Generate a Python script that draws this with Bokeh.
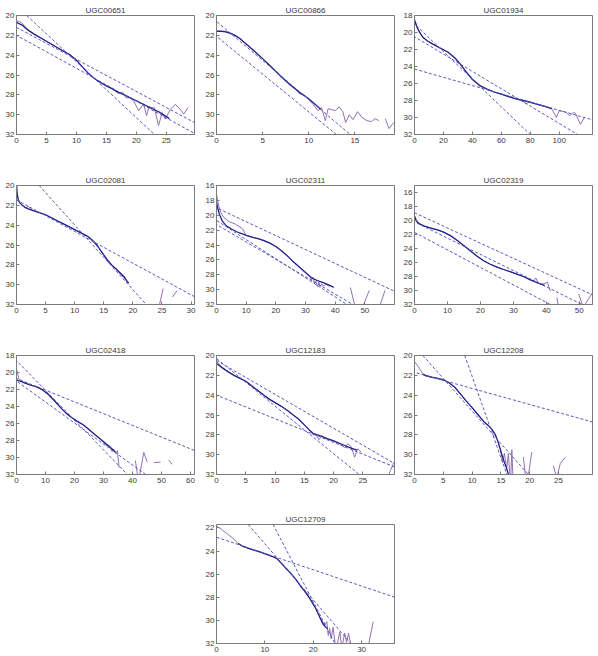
import numpy as np
from bokeh.plotting import figure
from bokeh.models import Range1d, FixedTicker, Slope, Spacer
from bokeh.layouts import column, row
from bokeh.embed import file_html
from bokeh.resources import INLINE

nan = float("nan")

names = ["UGC00651", "UGC00866", "UGC01934", "UGC02081", "UGC02311",
         "UGC02319", "UGC02418", "UGC12183", "UGC12208", "UGC12709"]

# ---------------- UGC00651 ----------------
p1_xmax = 29.7
p1_ylim = [20, 32]
p1_xticks = [0, 5, 10, 15, 20, 25]
p1_yticks = [20, 22, 24, 26, 28, 30, 32]
p1_dark_r = [0, 1, 2, 3, 4, 5, 6, 7, 8, 9, 10, 11, 12, 13, 14, 15, 16, 17, 18, 19, 20, 21, 22, 23, 24, 25, 25.5]
p1_dark_mu = [20.7, 21.0, 21.5, 21.9, 22.25, 22.6, 22.95, 23.3, 23.65, 24.0, 24.5, 25.2, 25.85, 26.35, 26.75,
              27.1, 27.4, 27.75, 28.0, 28.3, 28.6, 28.9, 29.2, 29.5, 29.8, 30.2, 30.4]
p1_raw_r = [0, 0.5, 1, 1.5, 2, 3, 4, 5, 6, 7, 8, 9, 10, 11, 12, 13, 14, 15, 16, 17, 17.7, 18.3, 19, 19.6,
            20.4, 21.2, 21.7, 22.1, 22.6, 23.0, 23.7, 24.3, 24.8, 25.7, 26.5, 27.3, 27.9, 28.6]
p1_raw_mu = [20.55, 20.6, 20.8, 21.2, 21.5, 21.9, 22.25, 22.6, 22.95, 23.3, 23.65, 24.0, 24.5, 25.2, 25.85,
             26.35, 26.75, 27.1, 27.4, 27.85, 27.75, 28.3, 28.3, 28.7, 29.6, 28.9, 30.1, 29.2, 29.3, 29.3,
             31.1, 29.8, 30.45, 29.45, 28.95, 29.45, 29.95, 29.3]
p1_fit_b = [19.04, 21.2, 22.0]
p1_fit_m = [0.563, 0.323, 0.333]

# ---------------- UGC00866 ----------------
p2_xmax = 19.3
p2_ylim = [20, 32]
p2_xticks = [0, 5, 10, 15]
p2_yticks = [20, 22, 24, 26, 28, 30, 32]
p2_dark_r = [0, 0.5, 1, 1.5, 2, 2.5, 3, 4, 5, 6, 7, 8, 9, 10, 10.5, 11, 11.3]
p2_dark_mu = [21.6, 21.6, 21.65, 21.8, 22.0, 22.3, 22.7, 23.5, 24.35, 25.25, 26.15, 27.0, 27.75, 28.4, 28.8, 29.2, 29.45]
p2_raw_r = [0, 0.5, 1, 1.5, 2, 2.5, 3, 4, 5, 6, 7, 8, 8.5, 9, 9.5, 10, 10.5, 11.0, 11.4, 11.8, 12.1, 12.5,
            12.9, 13.3, 13.7, 14.0, 14.4, 14.8, 15.3, 15.8, 16.3, 16.8, 17.2, 17.6, nan, 18.3, 18.7, 19.2]
p2_raw_mu = [21.55, 21.55, 21.6, 21.75, 22.0, 22.3, 22.7, 23.5, 24.35, 25.25, 26.15, 27.0, 27.3, 27.9, 28.0,
             28.5, 29.0, 29.6, 29.3, 30.6, 29.4, 29.5, 29.6, 29.2, 29.7, 30.8, 30.0, 30.5, 29.7, 30.3, 30.6,
             30.7, 30.4, 30.6, nan, 30.4, 31.4, 30.8]
p2_fit_b = [20.6, 22.1]
p2_fit_m = [0.786, 0.762]

# ---------------- UGC01934 ----------------
p3_xmax = 123
p3_ylim = [18, 32]
p3_xticks = [0, 20, 40, 60, 80, 100]
p3_yticks = [18, 20, 22, 24, 26, 28, 30, 32]
p3_dark_r = [0, 2, 4, 6, 9, 13, 18, 23, 28, 32, 36, 40, 45, 50, 55, 60, 65, 70, 75, 80, 85, 90, 95]
p3_dark_mu = [18.6, 19.5, 20.1, 20.6, 21.0, 21.4, 21.85, 22.3, 23.0, 23.8, 24.7, 25.5, 26.2, 26.65, 27.0,
              27.25, 27.55, 27.8, 28.0, 28.2, 28.45, 28.7, 28.95]
p3_raw_r = [0, 2, 4, 6, 9, 13, 18, 23, 28, 32, 36, 40, 43, 46, 50, 55, 60, 65, 70, 75, 77, 79, 81, 85, 90,
            95, 98, 100, 103, 105, 107, 110, 111.2, 114.7, 117.4]
p3_raw_mu = [18.4, 19.4, 20.1, 20.6, 21.0, 21.4, 21.85, 22.3, 23.0, 23.8, 24.7, 25.6, 26.0, 26.4, 26.65,
             27.0, 27.25, 27.55, 27.8, 28.0, 28.4, 28.2, 28.3, 28.45, 28.7, 29.0, 30.0, 29.2, 29.3, 29.4,
             29.8, 29.4, 29.5, 30.8, 30.0]
p3_fit_b = [19.0, 20.5, 24.3]
p3_fit_m = [0.1625, 0.102, 0.0486]

# ---------------- UGC02081 ----------------
p4_xmax = 30.6
p4_ylim = [20, 32]
p4_xticks = [0, 5, 10, 15, 20, 25, 30]
p4_yticks = [20, 22, 24, 26, 28, 30, 32]
p4_dark_r = [0, 0.1, 0.25, 0.5, 1, 1.5, 2, 3, 4, 5, 6, 7, 8, 9, 10, 11, 12, 12.5, 13, 13.5, 14, 14.5, 15,
             15.5, 16, 16.5, 17, 17.5, 18, 18.5, 19, 19.3]
p4_dark_mu = [20.0, 20.8, 21.3, 21.7, 22.0, 22.2, 22.35, 22.55, 22.75, 22.95, 23.25, 23.55, 23.85, 24.15,
              24.45, 24.75, 25.05, 25.25, 25.5, 25.8, 26.15, 26.6, 27.0, 27.4, 27.75, 28.1, 28.35, 28.65,
              28.95, 29.25, 29.65, 29.85]
p4_raw_r = [0, 0.1, 0.25, 0.5, 1, 1.5, 2, 2.5, 3, 4, 5, 6, 7, 8, 9, 10, 11, 12, 13, 14, 15, 15.5, 16, 16.5,
            17, 17.5, 18, 18.5, 19, 19.3, nan, 24.4, 25.2, nan, 26.8, 27.6]
p4_raw_mu = [20.0, 20.8, 21.3, 21.7, 22.0, 22.3, 22.1, 22.4, 22.55, 22.75, 22.95, 23.25, 23.55, 23.85, 24.15,
             24.45, 24.75, 25.05, 25.5, 26.15, 27.0, 27.55, 27.9, 28.1, 28.35, 28.6, 28.85, 29.1, 29.65,
             29.85, nan, 32.5, 30.4, nan, 31.25, 30.6]
p4_fit_b = [17.46, 21.45]
p4_fit_m = [0.652, 0.319]

# ---------------- UGC02311 ----------------
p5_xmax = 60
p5_ylim = [16, 32]
p5_xticks = [0, 10, 20, 30, 40, 50]
p5_yticks = [16, 18, 20, 22, 24, 26, 28, 30, 32]
p5_dark_r = [0, 0.5, 1, 2, 3, 4, 5, 6, 7, 8, 9, 10, 12, 14, 16, 18, 20, 22, 24, 26, 28, 30, 32, 34, 36, 38, 39.5]
p5_dark_mu = [18.2, 19.2, 19.9, 20.8, 21.3, 21.6, 21.85, 22.05, 22.25, 22.4, 22.55, 22.7, 22.95, 23.15, 23.4,
              23.75, 24.2, 24.8, 25.5, 26.3, 27.0, 27.7, 28.4, 28.8, 29.05, 29.4, 29.7]
p5_raw_r = [0, 0.3, 0.6, 1.4, 2.5, 4.2, 6.4, 8.7, 10, 12, 14, 16, 18, 20, 22, 24, 26, 28, 30, 31.5, 32, 32.5,
            33, 33.5, 34, 34.5, 35, 35.5, 36, 37, 38, nan, 45.1, 46.8, nan, 49.2, 51.5, nan, 54.9, 56.8]
p5_raw_mu = [17.2, 17.8, 18.5, 19.6, 20.3, 20.85, 21.2, 21.8, 22.7, 22.95, 23.15, 23.4, 23.75, 24.2, 24.8,
             25.5, 26.3, 27.0, 27.7, 28.2, 28.7, 28.3, 29.2, 28.9, 29.6, 29.0, 29.6, 29.2, 29.5, 29.3, 29.6,
             nan, 29.7, 32.4, nan, 32.4, 30.1, nan, 32.4, 30.1]
p5_fit_b = [19.0, 20.7, 21.25]
p5_fit_m = [0.187, 0.257, 0.234]

# ---------------- UGC02319 ----------------
p6_xmax = 54
p6_ylim = [15, 32]
p6_xticks = [0, 10, 20, 30, 40, 50]
p6_yticks = [16, 18, 20, 22, 24, 26, 28, 30, 32]
p6_dark_r = [0, 0.5, 1, 2, 3, 5, 7, 9, 11, 13, 15, 17, 19, 21, 23, 25, 27, 29, 31, 33, 35, 37, 39, 39.5]
p6_dark_mu = [19.4, 20.0, 20.3, 20.6, 20.8, 21.1, 21.35, 21.7, 22.2, 22.85, 23.6, 24.35, 25.1, 25.75, 26.25,
              26.65, 27.0, 27.3, 27.65, 28.0, 28.45, 28.85, 29.2, 29.3]
p6_raw_r = [0, 0.5, 1, 2, 3, 5, 7, 9, 11, 13, 15, 17, 19, 21, 23, 25, 27, 29, 31, 33, 35, 36.1, 36.8, 37.6,
            38.5, 39.6, 40.3, 41.2, nan, 43.2, 43.7, nan, 49.8, 51.2, 54.0]
p6_raw_mu = [19.3, 19.9, 20.3, 20.6, 20.8, 21.1, 21.35, 21.7, 22.2, 22.85, 23.6, 24.35, 25.1, 25.75, 26.25,
             26.65, 27.0, 27.3, 27.65, 28.0, 28.45, 28.7, 28.2, 29.0, 29.1, 29.0, 28.8, 30.1, nan, 31.0, 32.4,
             nan, 30.5, 32.4, 30.3]
p6_fit_b = [18.9, 20.2, 21.7]
p6_fit_m = [0.217, 0.232, 0.25]

# ---------------- UGC02418 ----------------
p7_xmax = 61.4
p7_ylim = [18, 32]
p7_xticks = [0, 10, 20, 30, 40, 50, 60]
p7_yticks = [18, 20, 22, 24, 26, 28, 30, 32]
p7_dark_r = [0, 0.5, 1, 2, 3, 5, 7, 9, 11, 13, 15, 17, 19, 21, 23, 25, 27, 29, 31, 33, 34.2]
p7_dark_mu = [20.9, 20.95, 21.0, 21.1, 21.25, 21.5, 21.7, 22.05, 22.6, 23.3, 24.05, 24.75, 25.3, 25.75,
              26.15, 26.7, 27.3, 27.85, 28.4, 29.0, 29.4]
p7_raw_r = [0, 0.5, 1, 2, 3, 5, 7, 9, 10, 11, 13, 15, 17, 19, 21, 23, 25, 27, 29, 30, 31, 32, 33, 33.5,
            34.2, 34.8, 35.4, nan, 41.0, 41.9, nan, 42.3, 43.9, 45.1, nan, 47.4, 49.7, nan, 52.5, 53.7]
p7_raw_mu = [19.6, 20.3, 20.9, 21.15, 21.25, 21.5, 21.7, 22.0, 22.35, 22.5, 23.3, 24.05, 24.75, 25.3, 25.75,
             26.15, 26.7, 27.3, 27.85, 28.2, 28.6, 28.6, 29.3, 29.0, 29.5, 29.2, 31.2, nan, 30.35, 32.4, nan,
             32.4, 29.4, 30.55, nan, 30.6, 30.55, nan, 30.3, 30.8]
p7_fit_b = [18.6, 20.7, 21.0]
p7_fit_m = [0.35, 0.138, 0.247]

# ---------------- UGC12183 ----------------
p8_xmax = 30.4
p8_ylim = [20, 32]
p8_xticks = [0, 5, 10, 15, 20, 25]
p8_yticks = [20, 22, 24, 26, 28, 30, 32]
p8_dark_r = [0, 1, 2, 3, 4, 5, 6, 7, 8, 9, 10, 11, 12, 13, 14, 15, 16, 16.5, 17, 18, 19, 20, 21, 22, 23, 24]
p8_dark_mu = [20.8, 21.25, 21.65, 22.0, 22.3, 22.6, 23.05, 23.5, 23.95, 24.4, 24.75, 25.1, 25.5, 25.95, 26.4,
              27.0, 27.6, 27.85, 27.95, 28.15, 28.4, 28.6, 28.85, 29.1, 29.35, 29.55]
p8_raw_r = [0, 1, 2, 3, 4, 5, 6, 6.5, 7, 8, 9, 10, 11, 12, 13, 14, 15, 16, 16.5, 17, 17.5, 18, 18.5, 19, 20,
            21, 21.9, 22.4, 23.0, 23.6, 24.1, 24.7, nan, 29.2, 29.7, 30.4]
p8_raw_mu = [20.6, 21.2, 21.65, 22.0, 22.3, 22.6, 23.0, 23.35, 23.5, 23.95, 24.4, 24.75, 25.1, 25.5, 25.95,
             26.4, 27.0, 27.6, 28.0, 28.0, 28.5, 28.1, 28.4, 28.4, 28.6, 28.9, 29.3, 28.9, 29.2, 30.25, 29.4,
             29.75, nan, 32.4, 31.6, 30.7]
p8_fit_b = [20.5, 20.3, 24.0]
p8_fit_m = [0.342, 0.48, 0.238]

# ---------------- UGC12208 ----------------
p9_xmax = 30.9
p9_ylim = [20, 32]
p9_xticks = [0, 5, 10, 15, 20, 25]
p9_yticks = [20, 22, 24, 26, 28, 30, 32]
p9_dark_r = [1.5, 2, 3, 4, 5, 5.5, 6, 7, 8, 9, 10, 11, 12, 13, 13.5, 14, 14.5, 15, 15.5, 16, 16.5]
p9_dark_mu = [21.9, 22.05, 22.2, 22.3, 22.45, 22.6, 22.75, 23.2, 23.9, 24.6, 25.25, 25.95, 26.65, 27.15,
              27.5, 27.95, 28.7, 29.7, 30.6, 31.4, 32.4]
p9_raw_r = [0, 0.5, 1, 1.5, 2, 3, 4, 5, 6, 7, 8, 9, 10, 11, 12, 13, 14, 14.5, 15.0, 15.3, 15.6, 16.0, 16.3,
            16.6, nan, 16.7, 16.9, 17.1, nan, 18.9, 19.3, nan, 19.7, 20.35, nan, 24.1, 24.7, 25.3, 26.2]
p9_raw_mu = [20.6, 21.0, 21.45, 21.85, 22.0, 22.15, 22.3, 22.45, 22.75, 23.2, 23.9, 24.6, 25.25, 25.95,
             26.65, 27.15, 27.95, 28.7, 29.6, 30.8, 29.85, 31.4, 29.9, 32.4, nan, 32.4, 29.5, 32.4, nan,
             30.25, 32.4, nan, 32.4, 29.75, nan, 31.1, 32.4, 30.9, 30.25]
p9_fit_b = [21.7, 19.05, 5.7]
p9_fit_m = [0.162, 0.655, 1.64]

# ---------------- UGC12709 ----------------
p10_xmax = 36.8
p10_ylim = [21.7, 32]
p10_xticks = [0, 10, 20, 30]
p10_yticks = [22, 24, 26, 28, 30, 32]
p10_dark_r = [4.5, 5.5, 6.5, 7.5, 8.5, 9.5, 10.5, 11.5, 12.5, 13.5, 14.5, 15.5, 16.5, 17.5, 18.5, 19.5, 20.5,
              21, 21.5, 22, 22.5, 23]
p10_dark_mu = [23.35, 23.6, 23.75, 23.9, 24.0, 24.15, 24.3, 24.45, 24.65, 25.1, 25.55, 26.0, 26.5, 27.1,
               27.6, 28.25, 28.95, 29.4, 29.85, 30.3, 30.55, 30.75]
p10_raw_r = [0, 1, 1.7, 2.5, 3.4, 4.5, 5.5, 6.5, 8.5, 10.5, 12.5, 13.5, 15.5, 17.5, 19.5, 20.5, 21.5, 22.4,
             22.8, 23.1, 23.4, 23.7, 24.1, 24.5, 24.8, 25.5, 25.9, 26.5, 26.9, 27.3, 27.9, nan, 31.3, 32.4]
p10_raw_mu = [21.85, 22.1, 22.35, 22.6, 22.9, 23.35, 23.6, 23.75, 24.0, 24.3, 24.65, 25.1, 26.0, 27.1, 28.25,
              28.95, 29.85, 30.4, 30.1, 31.3, 30.7, 31.6, 30.6, 31.9, 32.4, 31.0, 32.4, 31.1, 31.9, 31.1,
              32.4, nan, 32.4, 30.1]
p10_fit_b = [22.8, 18.52, 12.28]
p10_fit_m = [0.141, 0.485, 0.805]

# ---------------- styling ----------------
DARK = "#22228a"
RAW = "#9470b0"
FIT = "#5a5abc"
FRAME = "#7a7a7a"
TEXT = "#3a3a3a"
FONT = "Liberation Sans"


def arr(v):
    return np.array(v, dtype=float)


def panel(name, w, h, borders, xmax, ylim, xticks, yticks, raw_r, raw_mu, dark_r, dark_mu, fb, fm):
    bl, br, bt, bb = borders
    p = figure(width=w, height=h, x_range=Range1d(0, xmax), y_range=Range1d(ylim[1], ylim[0]),
               output_backend="svg", toolbar_location=None, min_border_left=bl, min_border_right=br,
               min_border_top=bt, min_border_bottom=bb, background_fill_color="white",
               border_fill_color="white")
    p.title.text = name
    p.title.align = "center"
    p.title.text_font = FONT
    p.title.text_font_size = "8px"
    p.title.text_font_style = "normal"
    p.title.text_color = TEXT
    p.title.standoff = 1
    p.title.offset = 0
    p.outline_line_color = FRAME
    p.outline_line_width = 1
    p.xgrid.visible = False
    p.ygrid.visible = False
    for ax, t in ((p.xaxis, xticks), (p.yaxis, yticks)):
        ax.ticker = FixedTicker(ticks=t)
        ax.major_tick_in = 3
        ax.major_tick_out = 0
        ax.minor_tick_line_color = None
        ax.major_tick_line_color = FRAME
        ax.axis_line_color = FRAME
        ax.major_label_text_font = FONT
        ax.major_label_text_font_size = "8px"
        ax.major_label_text_color = TEXT
    p.xaxis.major_label_standoff = 3
    p.yaxis.major_label_standoff = 2
    p.line(arr(raw_r), arr(raw_mu), line_color=RAW, line_width=1)
    p.line(arr(dark_r), arr(dark_mu), line_color=DARK, line_width=1.3)
    for b, m in zip(fb, fm):
        p.add_layout(Slope(gradient=m, y_intercept=b, line_color=FIT, line_width=1, line_dash="3 2"))
    return p


W = [200, 199, 199]
B_COL = [(16, 6), (16, 5), (15, 6)]
H_ROW = 170
B_ROW = (15, 36)
H_LAST = 146
B_LAST = (14, 13)

specs = [
    (p1_xmax, p1_ylim, p1_xticks, p1_yticks, p1_raw_r, p1_raw_mu, p1_dark_r, p1_dark_mu, p1_fit_b, p1_fit_m),
    (p2_xmax, p2_ylim, p2_xticks, p2_yticks, p2_raw_r, p2_raw_mu, p2_dark_r, p2_dark_mu, p2_fit_b, p2_fit_m),
    (p3_xmax, p3_ylim, p3_xticks, p3_yticks, p3_raw_r, p3_raw_mu, p3_dark_r, p3_dark_mu, p3_fit_b, p3_fit_m),
    (p4_xmax, p4_ylim, p4_xticks, p4_yticks, p4_raw_r, p4_raw_mu, p4_dark_r, p4_dark_mu, p4_fit_b, p4_fit_m),
    (p5_xmax, p5_ylim, p5_xticks, p5_yticks, p5_raw_r, p5_raw_mu, p5_dark_r, p5_dark_mu, p5_fit_b, p5_fit_m),
    (p6_xmax, p6_ylim, p6_xticks, p6_yticks, p6_raw_r, p6_raw_mu, p6_dark_r, p6_dark_mu, p6_fit_b, p6_fit_m),
    (p7_xmax, p7_ylim, p7_xticks, p7_yticks, p7_raw_r, p7_raw_mu, p7_dark_r, p7_dark_mu, p7_fit_b, p7_fit_m),
    (p8_xmax, p8_ylim, p8_xticks, p8_yticks, p8_raw_r, p8_raw_mu, p8_dark_r, p8_dark_mu, p8_fit_b, p8_fit_m),
    (p9_xmax, p9_ylim, p9_xticks, p9_yticks, p9_raw_r, p9_raw_mu, p9_dark_r, p9_dark_mu, p9_fit_b, p9_fit_m),
    (p10_xmax, p10_ylim, p10_xticks, p10_yticks, p10_raw_r, p10_raw_mu, p10_dark_r, p10_dark_mu, p10_fit_b, p10_fit_m),
]

rows = []
for ri in range(3):
    figs = []
    for ci in range(3):
        k = ri * 3 + ci
        bl, br = B_COL[ci]
        figs.append(panel(names[k], W[ci], H_ROW, (bl, br, B_ROW[0], B_ROW[1]), *specs[k]))
    rows.append(row(*figs))

bl, br = B_COL[1]
last = panel(names[9], W[1], H_LAST, (bl, br, B_LAST[0], B_LAST[1]), *specs[9])
rows.append(row(Spacer(width=W[0], height=H_LAST), last))

layout = column(*rows)

with open("out.html", "w") as f:
    f.write(file_html(layout, INLINE))
